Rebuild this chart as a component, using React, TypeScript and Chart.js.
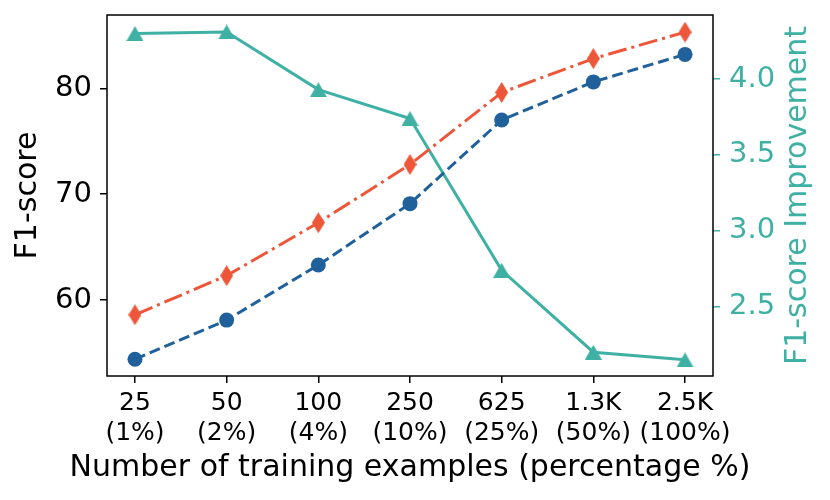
import { useEffect, useRef } from 'react'
import { Chart, registerables } from 'chart.js'

Chart.register(...registerables)

const counts = ['25', '50', '100', '250', '625', '1.3K', '2.5K']
const percents = ['(1%)', '(2%)', '(4%)', '(10%)', '(25%)', '(50%)', '(100%)']
const baseF1 = [54.4, 58.1, 63.3, 69.1, 77.0, 80.6, 83.2]
const oursF1 = [58.6, 62.3, 67.3, 72.8, 79.6, 82.8, 85.3]
const improvement = [4.3, 4.31, 3.93, 3.74, 2.74, 2.2, 2.15]
const leftTicks = [60, 70, 80]
const rightTicks = [2.5, 3.0, 3.5, 4.0]

const BLUE = '#21619b'
const RED = '#ee5639'
const TEAL = '#3fb1a4'
const FONT = '"DejaVu Sans", sans-serif'

function marker(shape: 'diamond' | 'triangle', color: string, w: number, h: number) {
  const c = document.createElement('canvas')
  c.width = w
  c.height = h
  const g = c.getContext('2d')!
  g.fillStyle = color
  g.beginPath()
  if (shape === 'diamond') {
    g.moveTo(w / 2, 0)
    g.lineTo(w, h / 2)
    g.lineTo(w / 2, h)
    g.lineTo(0, h / 2)
  } else {
    g.moveTo(w / 2, 0)
    g.lineTo(w, h)
    g.lineTo(0, h)
  }
  g.closePath()
  g.fill()
  return c
}

const framePlugin = {
  id: 'frame',
  afterDraw(chart: any) {
    const { ctx, chartArea: a } = chart
    ctx.save()
    ctx.strokeStyle = '#000'
    ctx.lineWidth = 1.5
    ctx.strokeRect(a.left, a.top, a.right - a.left, a.bottom - a.top)
    ctx.font = `30px ${FONT}`
    ctx.textAlign = 'center'
    ctx.textBaseline = 'middle'
    ctx.fillStyle = '#000'
    ctx.fillText('Number of training examples (percentage %)', (a.left + a.right) / 2, a.bottom + 92)
    const cy = (a.top + a.bottom) / 2
    ctx.save()
    ctx.translate(a.left - 79, cy)
    ctx.rotate(-Math.PI / 2)
    ctx.fillText('F1-score', 0, 0)
    ctx.restore()
    ctx.save()
    ctx.fillStyle = TEAL
    ctx.translate(a.right + 85, cy)
    ctx.rotate(-Math.PI / 2)
    ctx.fillText('F1-score Improvement', 0, 0)
    ctx.restore()
    ctx.restore()
  },
}

export default function App() {
  const canvasRef = useRef<HTMLCanvasElement>(null)

  useEffect(() => {
    document.body.style.margin = '0'
    if (!canvasRef.current) return
    const xs = counts.map((_, i) => i)
    const chart = new Chart(canvasRef.current, {
      type: 'line',
      data: {
        datasets: [
          {
            data: xs.map((x, i) => ({ x, y: baseF1[i] })),
            borderColor: BLUE,
            backgroundColor: BLUE,
            borderWidth: 3,
            borderDash: [11, 5],
            pointStyle: 'circle',
            pointRadius: 7.5,
            pointBorderWidth: 0,
            yAxisID: 'y',
          },
          {
            data: xs.map((x, i) => ({ x, y: oursF1[i] })),
            borderColor: RED,
            backgroundColor: RED,
            borderWidth: 3,
            borderDash: [19, 5, 3, 5],
            pointStyle: marker('diamond', RED, 13, 21),
            pointBorderWidth: 0,
            yAxisID: 'y',
          },
          {
            data: xs.map((x, i) => ({ x, y: improvement[i] })),
            borderColor: TEAL,
            backgroundColor: TEAL,
            borderWidth: 3,
            pointStyle: marker('triangle', TEAL, 17, 15),
            pointBorderWidth: 0,
            yAxisID: 'y1',
          },
        ],
      },
      options: {
        responsive: false,
        animation: false,
        layout: { padding: { top: 15, left: 0, right: 0, bottom: 0 } },
        plugins: { legend: { display: false }, tooltip: { enabled: false } },
        scales: {
          x: {
            type: 'linear',
            min: -0.305,
            max: 6.305,
            afterBuildTicks: (s: any) => { s.ticks = xs.map((v) => ({ value: v })) },
            afterFit: (s: any) => { s.height = 124; s.paddingLeft = 0; s.paddingRight = 0 },
            ticks: {
              callback: (v: any) => [counts[v], percents[v]],
              font: { family: FONT, size: 25, lineHeight: 1.2 },
              color: '#000',
              padding: 5,
              maxRotation: 0,
              autoSkip: false,
            },
            grid: { drawOnChartArea: false, tickLength: 7, color: '#000', lineWidth: 1.5 },
            border: { display: false },
          },
          y: {
            position: 'left',
            min: 52.82,
            max: 86.92,
            afterBuildTicks: (s: any) => { s.ticks = leftTicks.map((v) => ({ value: v })) },
            afterFit: (s: any) => { s.width = 107; s.paddingTop = 0; s.paddingBottom = 0 },
            ticks: { font: { family: FONT, size: 29 }, color: '#000', padding: 8 },
            grid: { drawOnChartArea: false, tickLength: 7, color: '#000', lineWidth: 1.5 },
            border: { display: false },
          },
          y1: {
            position: 'right',
            min: 2.0435,
            max: 4.4216,
            afterBuildTicks: (s: any) => { s.ticks = rightTicks.map((v) => ({ value: v })) },
            afterFit: (s: any) => { s.width = 117; s.paddingTop = 0; s.paddingBottom = 0 },
            ticks: {
              font: { family: FONT, size: 29 },
              color: TEAL,
              padding: 9,
              callback: (v: any) => Number(v).toFixed(1),
            },
            grid: { drawOnChartArea: false, tickLength: 7, color: TEAL, lineWidth: 1.5 },
            border: { display: false },
          },
        },
      },
      plugins: [framePlugin],
    })
    return () => { chart.destroy() }
  }, [])

  return <canvas ref={canvasRef} width={830} height={500} style={{ display: 'block' }} />
}
